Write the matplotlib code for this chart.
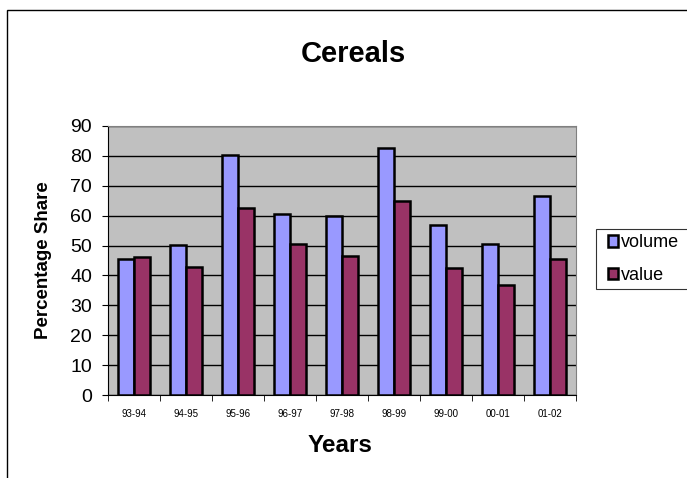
import matplotlib.pyplot as plt
import numpy as np
from matplotlib.patches import Rectangle

years = ["93-94", "94-95", "95-96", "96-97", "97-98", "98-99", "99-00", "00-01", "01-02"]
volume = [45.4, 50.3, 80.2, 60.5, 59.9, 82.6, 56.9, 50.5, 66.5]
value = [46.3, 42.9, 62.4, 50.5, 46.5, 64.9, 42.6, 36.8, 45.4]

plt.rcParams['font.family'] = ['Liberation Sans', 'DejaVu Sans']

W, H = 687, 478
fig = plt.figure(figsize=(W / 100, H / 100), dpi=100)

# outer chart frame
fig.patches.append(Rectangle((7 / W, -0.1), 1.2, 1 - 10 / H + 0.1,
                             transform=fig.transFigure, fill=False,
                             edgecolor='black', linewidth=1.0))

left, right, top, bottom = 108, 576, 126, 395
ax = fig.add_axes([left / W, 1 - bottom / H, (right - left) / W, (bottom - top) / H])
ax.set_facecolor('#C0C0C0')

x = np.arange(len(years))
w = 0.3
ax.bar(x - w / 2, volume, w, color='#9999FF', edgecolor='black', linewidth=1.8,
       label='volume', zorder=3)
ax.bar(x + w / 2, value, w, color='#993366', edgecolor='black', linewidth=1.8,
       label='value', zorder=3)

ax.set_xlim(-0.5, len(years) - 0.5)
ax.set_ylim(0, 90)
ax.set_yticks(range(0, 91, 10))
ax.tick_params(axis='y', labelsize=14, direction='out', length=4.5, pad=7)
ax.yaxis.grid(True, color='black', linewidth=1.0, zorder=0)

# category labels centred, tick marks between groups
ax.set_xticks(x)
ax.set_xticklabels(years, fontsize=7)
ax.tick_params(axis='x', length=0, pad=10)
ax.set_xticks(np.arange(-0.5, len(years)), minor=True)
ax.tick_params(axis='x', which='minor', length=4, direction='out')

for side in ['top', 'right']:
    ax.spines[side].set_color('#808080')
ax.spines['left'].set_color('black')
ax.spines['bottom'].set_color('black')

fig.text(353 / W, 1 - 62 / H, "Cereals", fontsize=21,
         fontweight='bold', ha='center', va='baseline')
fig.text(340 / W, 1 - 452 / H, "Years", fontsize=17.5,
         fontweight='bold', ha='center', va='baseline')
fig.text(44 / W, 1 - 260 / H, "Percentage Share", fontsize=13.5,
         fontweight='bold', ha='center', va='center', rotation=90)

leg = fig.legend(loc='upper left', bbox_to_anchor=(596 / W, 1 - 229 / H),
                 fontsize=13, frameon=True, fancybox=False, edgecolor='black',
                 handlelength=0.6, handleheight=0.6, handletextpad=0.15,
                 borderpad=0.3, labelspacing=0.85, borderaxespad=0)
leg.get_frame().set_linewidth(0.8)
# widen the legend box to reach the right edge
leg._legend_box.set_width(84)

fig.savefig("out.png", dpi=100)
